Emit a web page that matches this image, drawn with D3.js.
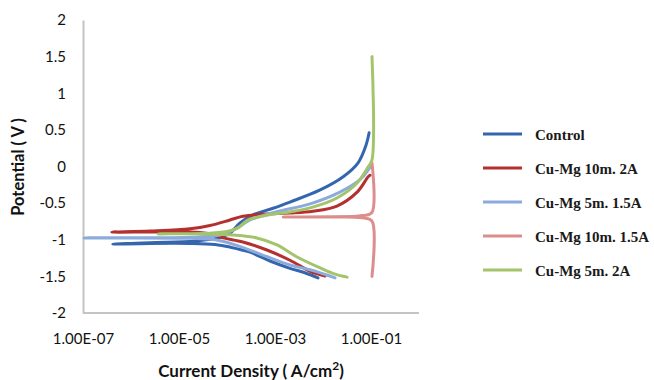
<!DOCTYPE html>
<html>
<head>
<meta charset="utf-8">
<script src="https://cdn.jsdelivr.net/npm/d3@7/dist/d3.min.js"></script>
<style>
  html, body { margin: 0; padding: 0; background: #fff; }
  svg { display: block; }
  .tick text { font-family: Lato, "Open Sans", sans-serif; font-size: 15px; fill: #111; }
</style>
</head>
<body>
<svg id="chart" width="654" height="380"></svg>
<script>
// Potentiodynamic polarization (Tafel) curves: current density (A/cm²) vs potential (V)

const seriesNames = ["Control", "Cu-Mg 10m. 2A", "Cu-Mg 5m. 1.5A", "Cu-Mg 10m. 1.5A", "Cu-Mg 5m. 2A"];
const seriesColors = ["#3466ae", "#b3302e", "#8cabdc", "#dc8d8c", "#a3c46b"];

// Control
const controlCurrent = [7.50e-3, 3.98e-3, 1.95e-3, 7.50e-4, 2.88e-4, 1.10e-4, 5.37e-5, 1.62e-5, 2.37e-6, 3.98e-7,
                        2.37e-6, 2.04e-5, 6.17e-5, 1.10e-4, 1.78e-4, 3.31e-4, 8.71e-4, 1.95e-3, 8.32e-3, 2.51e-2, 5.13e-2, 7.50e-2, 8.71e-2];
const controlPotential = [-1.52, -1.45, -1.39, -1.29, -1.17, -1.10, -1.065, -1.05, -1.05, -1.06,
                          -1.04, -1.02, -0.975, -0.91, -0.77, -0.66, -0.57, -0.485, -0.32, -0.14, 0.05, 0.29, 0.46];

// Cu-Mg 10m. 2A
const cuMg10m2ACurrent = [1.05e-2, 5.13e-3, 1.95e-3, 6.46e-4, 2.04e-4, 7.94e-5, 4.22e-5, 1.62e-5, 2.37e-6, 3.80e-7,
                          2.37e-6, 1.62e-5, 4.22e-5, 1.10e-4, 2.04e-4, 5.37e-4, 1.95e-3, 5.89e-3, 1.86e-2, 4.90e-2, 8.32e-2, 9.12e-2];
const cuMg10m2APotential = [-1.495, -1.43, -1.28, -1.14, -1.03, -0.975, -0.92, -0.895, -0.895, -0.895,
                            -0.88, -0.85, -0.805, -0.73, -0.68, -0.65, -0.635, -0.61, -0.54, -0.35, -0.14, -0.12];

// Cu-Mg 5m. 1.5A
const cuMg5m15ACurrent = [1.70e-2, 5.13e-3, 1.95e-3, 4.68e-4, 1.41e-4, 5.37e-5, 1.62e-5, 1.00e-7,
                          1.62e-5, 6.76e-5, 1.41e-4, 2.88e-4, 9.55e-4, 5.13e-3, 2.14e-2, 5.62e-2, 8.32e-2, 9.55e-2];
const cuMg5m15APotential = [-1.52, -1.41, -1.345, -1.195, -1.07, -1.00, -0.98, -0.975,
                            -0.965, -0.935, -0.855, -0.73, -0.625, -0.51, -0.35, -0.18, -0.05, 0.02];

// Cu-Mg 10m. 1.5A
const cuMg10m15ACurrent = [1.00e-1, 1.00e-1, 6.46e-2, 1.41e-3, 6.46e-2, 1.00e-1, 1.00e-1];
const cuMg10m15APotential = [-1.5, -0.745, -0.70, -0.69, -0.67, -0.625, 0.05];

// Cu-Mg 5m. 2A
const cuMg5m2ACurrent = [3.02e-2, 1.70e-2, 8.32e-3, 2.75e-3, 1.05e-3, 3.98e-4, 1.26e-4, 4.22e-5, 3.47e-6,
                         4.22e-5, 7.94e-5, 1.55e-4, 2.63e-4, 6.46e-4, 1.95e-3, 5.13e-3, 1.86e-2, 4.90e-2, 8.32e-2, 1.00e-1, 1.00e-1];
const cuMg5m2APotential = [-1.51, -1.47, -1.385, -1.235, -1.07, -0.975, -0.935, -0.92, -0.92,
                           -0.91, -0.895, -0.845, -0.73, -0.665, -0.62, -0.565, -0.43, -0.225, -0.005, 0.09, 1.5];

const xTickValues = [1e-7, 1e-5, 1e-3, 1e-1];
const yTickValues = [-2, -1.5, -1, -0.5, 0, 0.5, 1, 1.5, 2];

const seriesData = [
  [controlCurrent, controlPotential],
  [cuMg10m2ACurrent, cuMg10m2APotential],
  [cuMg5m15ACurrent, cuMg5m15APotential],
  [cuMg10m15ACurrent, cuMg10m15APotential],
  [cuMg5m2ACurrent, cuMg5m2APotential]
].map(([cur, pot], i) => ({
  name: seriesNames[i],
  color: seriesColors[i],
  points: cur.map((c, j) => ({ i: c, e: pot[j] }))
}));

const svg = d3.select("#chart");

const x = d3.scaleLog().domain([1e-7, 1]).range([84, 420]);
const y = d3.scaleLinear().domain([-2, 2]).range([313, 20]);

// Axes
const fmtSci = d => {
  const exp = Math.round(Math.log10(d));
  const sign = exp < 0 ? "-" : "+";
  return "1.00E" + sign + String(Math.abs(exp)).padStart(2, "0");
};

const yAxis = svg.append("g")
  .attr("transform", `translate(${x(1e-7) - 1},0)`)
  .call(d3.axisLeft(y).tickValues(yTickValues).tickSize(0).tickPadding(17)
    .tickFormat(d => d3.format("")(d).replace("−", "-")));

const xAxis = svg.append("g")
  .attr("transform", `translate(-1,${y(-2)})`)
  .call(d3.axisBottom(x).tickValues(xTickValues).tickSize(0).tickPadding(20).tickFormat(fmtSci));

[yAxis, xAxis].forEach(g => {
  g.select(".domain").attr("stroke", "#c4c4c4").attr("stroke-width", 2);
});
xAxis.select(".domain").attr("d", `M${x(1e-7)},0H${x(1)}`);

// Curves
const line = d3.line()
  .x(d => x(d.i))
  .y(d => y(d.e))
  .curve(d3.curveCatmullRom.alpha(0.5));

svg.append("g")
  .selectAll("path")
  .data(seriesData)
  .join("path")
  .attr("d", d => line(d.points))
  .attr("fill", "none")
  .attr("stroke", d => d.color)
  .attr("stroke-width", 3)
  .attr("stroke-linejoin", "round")
  .attr("stroke-linecap", "round");

// Axis titles
svg.append("text")
  .attr("transform", `translate(24,167) rotate(-90)`)
  .attr("text-anchor", "middle")
  .attr("font-family", "Lato, 'Open Sans', sans-serif")
  .attr("font-weight", "bold")
  .attr("font-size", 16.5)
  .attr("fill", "#111")
  .text("Potential ( V )");

const xTitle = svg.append("text")
  .attr("x", 251)
  .attr("y", 377)
  .attr("text-anchor", "middle")
  .attr("font-family", "Lato, 'Open Sans', sans-serif")
  .attr("font-weight", "bold")
  .attr("font-size", 17)
  .attr("fill", "#111");
xTitle.append("tspan").text("Current Density ( A/cm");
xTitle.append("tspan").attr("dy", -7).attr("font-size", 12).text("2");
xTitle.append("tspan").attr("dy", 7).text(")");

// Legend
const legend = svg.append("g")
  .selectAll("g")
  .data(seriesData)
  .join("g")
  .attr("transform", (d, i) => `translate(483,${134 + i * 34})`);

legend.append("line")
  .attr("x1", 0).attr("x2", 39)
  .attr("y1", 0).attr("y2", 0)
  .attr("stroke", d => d.color)
  .attr("stroke-width", 3);

legend.append("text")
  .attr("x", 52)
  .attr("y", 1)
  .attr("dominant-baseline", "central")
  .attr("font-family", "'Liberation Serif', 'Times New Roman', serif")
  .attr("font-weight", "bold")
  .attr("font-size", 15)
  .attr("fill", "#1a1a1a")
  .text(d => d.name);
</script>
</body>
</html>
